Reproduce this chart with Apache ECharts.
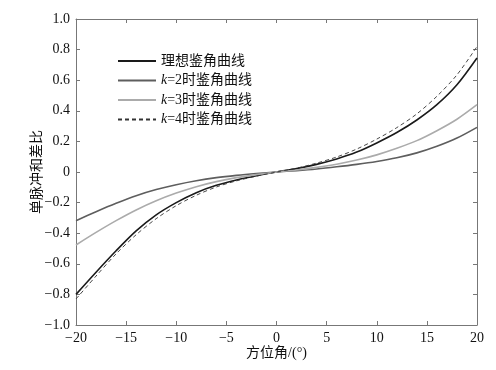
<!DOCTYPE html>
<html><head><meta charset="utf-8">
<script src="https://cdn.jsdelivr.net/npm/echarts@6/dist/echarts.min.js"></script>
<style>html,body{margin:0;padding:0;background:#fff}#c{width:496px;height:370px}</style>
</head><body><div id="c"></div>
<script>
var angles = [-20,-18,-16,-14,-12,-10,-8,-6,-4,-2,0,2,4,6,8,10,12,14,16,18,20];
var ideal = [-0.80,-0.655,-0.515,-0.385,-0.28,-0.20,-0.135,-0.087,-0.052,-0.024,0,0.022,0.05,0.085,0.13,0.19,0.258,0.34,0.44,0.57,0.745];
var k2 = [-0.318,-0.26,-0.205,-0.155,-0.115,-0.083,-0.057,-0.037,-0.022,-0.01,0,0.009,0.02,0.034,0.05,0.069,0.093,0.125,0.168,0.222,0.292];
var k3 = [-0.477,-0.395,-0.318,-0.248,-0.188,-0.138,-0.096,-0.063,-0.037,-0.017,0,0.013,0.03,0.051,0.078,0.112,0.155,0.205,0.27,0.345,0.44];
var k4 = [-0.83,-0.68,-0.535,-0.41,-0.305,-0.22,-0.152,-0.098,-0.058,-0.027,0,0.025,0.058,0.098,0.15,0.215,0.29,0.38,0.495,0.635,0.82];
var names = ['理想鉴角曲线','k=2时鉴角曲线','k=3时鉴角曲线','k=4时鉴角曲线'];
var xName = '方位角/(°)';
var yName = '单脉冲和差比';

function pts(ys){ return angles.map(function(a,i){ return [a, ys[i]]; }); }
var serif = '"Liberation Serif","Noto Sans CJK SC",serif';
var axisColor = '#777';
function fmtX(v){ return v < 0 ? '\u2212' + Math.abs(v) : String(v); }
function fmtY(v){ if (Math.abs(v) < 1e-9) return '0'; return v < 0 ? '\u2212' + Math.abs(v).toFixed(1) : v.toFixed(1); }

var chart = echarts.init(document.getElementById('c'), null, {renderer:'canvas'});
chart.setOption({
  animation: false,
  backgroundColor: '#fff',
  grid: {left: 76, right: 19, top: 19, bottom: 45},
  legend: {
    orient: 'vertical', left: 112, top: 49, itemGap: 5.5, itemWidth: 38, itemHeight: 14,
    data: names,
    itemStyle: {opacity: 0},
    formatter: function(n){ if (n.charAt(0) === 'k') return '{i|k}{n|' + n.slice(1) + '}'; return '{n|' + n + '}'; },
    textStyle: {fontFamily: serif, fontSize: 14, color: '#111',
      rich: {i: {fontStyle: 'italic', fontFamily: serif, fontSize: 14, color: '#111'},
             n: {fontFamily: serif, fontSize: 14, color: '#111'}}}
  },
  xAxis: [{
    type: 'value', min: -20, max: 20, interval: 5,
    name: xName, nameLocation: 'middle', nameGap: 21, nameMoveOverlap: false,
    nameTextStyle: {fontFamily: serif, fontSize: 14, color: '#111'},
    axisLine: {show: true, onZero: false, lineStyle: {color: axisColor, width: 1}},
    axisTick: {show: true, inside: true, length: 4, lineStyle: {color: axisColor}},
    axisLabel: {margin: 6, fontFamily: serif, fontSize: 14, color: '#111', formatter: fmtX},
    splitLine: {show: false}
  },{
    type: 'value', position: 'top', min: -20, max: 20, interval: 5,
    axisLine: {show: true, onZero: false, lineStyle: {color: axisColor, width: 1}},
    axisTick: {show: true, inside: true, length: 4, lineStyle: {color: axisColor}},
    axisLabel: {show: false}, splitLine: {show: false}
  }],
  yAxis: [{
    type: 'value', min: -1, max: 1, interval: 0.2,
    name: yName, nameLocation: 'middle', nameGap: 32, nameMoveOverlap: false,
    nameTextStyle: {fontFamily: serif, fontSize: 14, color: '#111'},
    axisLine: {show: true, onZero: false, lineStyle: {color: axisColor, width: 1}},
    axisTick: {show: true, inside: true, length: 4, lineStyle: {color: axisColor}},
    axisLabel: {margin: 6, fontFamily: serif, fontSize: 14, color: '#111', formatter: fmtY},
    splitLine: {show: false}
  },{
    type: 'value', position: 'right', min: -1, max: 1, interval: 0.2,
    axisLine: {show: true, onZero: false, lineStyle: {color: axisColor, width: 1}},
    axisTick: {show: true, inside: true, length: 4, lineStyle: {color: axisColor}},
    axisLabel: {show: false}, splitLine: {show: false}
  }],
  series: [
    {name: names[0], type: 'line', smooth: 0.3, symbol: 'none', data: pts(ideal), color: '#1a1a1a', lineStyle: {color: '#1a1a1a', width: 1.6}},
    {name: names[1], type: 'line', smooth: 0.3, symbol: 'none', data: pts(k2), color: '#5e5e5e', lineStyle: {color: '#5e5e5e', width: 1.6}},
    {name: names[2], type: 'line', smooth: 0.3, symbol: 'none', data: pts(k3), color: '#ababab', lineStyle: {color: '#ababab', width: 1.6}},
    {name: names[3], type: 'line', smooth: 0.3, symbol: 'none', data: pts(k4), color: '#333', lineStyle: {color: '#333', width: 0.9, type: [4,3]}}
  ]
});
</script></body></html>
